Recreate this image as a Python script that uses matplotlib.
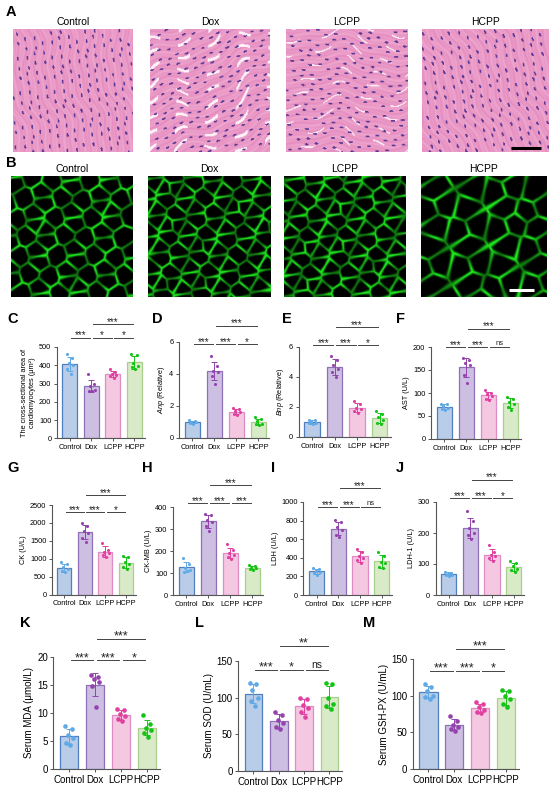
import numpy as np
import matplotlib
matplotlib.use("Agg")
import matplotlib.pyplot as plt
from matplotlib.transforms import blended_transform_factory

plt.rcParams['font.family'] = ['Liberation Sans', 'DejaVu Sans']
plt.rcParams['mathtext.fontset'] = 'custom'
plt.rcParams['mathtext.it'] = 'Liberation Sans:italic'
plt.rcParams['mathtext.rm'] = 'Liberation Sans'

groups = ["Control", "Dox", "LCPP", "HCPP"]

# per-animal values (Control, Dox, LCPP, HCPP)
area_c = [[460, 440, 415, 400, 380, 355], [350, 300, 285, 265, 260, 262],
          [378, 365, 352, 345, 340, 332], [462, 455, 415, 398, 388, 382]]
anp_d = [[1.1, 1.05, 1.02, 0.98, 0.95, 0.9], [5.1, 4.5, 4.2, 4.1, 3.9, 3.4],
         [1.85, 1.8, 1.7, 1.6, 1.5, 1.45], [1.3, 1.2, 1.05, 0.9, 0.85, 0.8]]
bnp_e = [[1.15, 1.1, 1.0, 0.95, 0.9, 0.85], [5.4, 5.1, 4.8, 4.5, 4.3, 4.0],
         [2.4, 2.2, 1.95, 1.85, 1.7, 1.6], [1.7, 1.55, 1.3, 1.1, 0.95, 0.85]]
ast_f = [[76, 75, 72, 68, 66, 63], [177, 172, 165, 160, 140, 122],
         [106, 100, 97, 93, 88, 85], [92, 88, 80, 76, 70, 64]]
ck_g = [[900, 850, 760, 720, 650, 620], [2000, 1920, 1780, 1720, 1580, 1480],
        [1450, 1250, 1200, 1150, 1100, 1050], [1080, 1050, 900, 850, 780, 700]]
ckmb_h = [[170, 140, 125, 115, 105, 110], [370, 362, 340, 330, 315, 290],
          [230, 205, 192, 180, 175, 165], [135, 130, 125, 122, 118, 115]]
ldh_i = [[290, 280, 262, 250, 235, 215], [810, 780, 730, 700, 650, 620],
         [500, 460, 420, 400, 375, 340], [465, 420, 360, 340, 300, 290]]
ldh1_j = [[75, 72, 68, 66, 64, 62], [270, 240, 215, 200, 195, 180],
          [160, 140, 130, 125, 118, 110], [110, 102, 92, 85, 80, 75]]
mda_k = [[7.6, 7.1, 6.0, 5.5, 4.6, 4.2], [16.8, 16.4, 16.0, 15.5, 14.8, 11.0],
         [10.8, 10.5, 9.8, 9.4, 9.0, 8.6], [9.7, 8.0, 7.3, 7.0, 6.5, 5.8]]
sod_l = [[120, 118, 110, 100, 95, 88], [80, 76, 70, 66, 60, 57],
         [100, 98, 90, 86, 80, 74], [120, 118, 100, 92, 88, 85]]
gsh_m = [[116, 112, 106, 100, 98, 96], [72, 66, 60, 57, 55, 52],
         [92, 88, 84, 81, 78, 77], [108, 106, 100, 95, 88, 84]]

# significance: Control-Dox, Dox-LCPP, LCPP-HCPP, Dox-HCPP
sig_c = ["***", "*", "*", "***"]
sig_d = ["***", "***", "*", "***"]
sig_e = ["***", "***", "*", "***"]
sig_f = ["***", "***", "ns", "***"]
sig_g = ["***", "***", "*", "***"]
sig_h = ["***", "***", "***", "***"]
sig_i = ["***", "***", "ns", "***"]
sig_j = ["***", "***", "*", "***"]
sig_k = ["***", "***", "*", "***"]
sig_l = ["***", "*", "ns", "**"]
sig_m = ["***", "***", "*", "***"]

fills = ["#b9cde9", "#cdbfe2", "#f5c8e2", "#d8eac8"]
edges = ["#4f7fbf", "#8e70b8", "#e08cc4", "#a9cf8c"]
dots = ["#5ea9e6", "#9443ad", "#e0409f", "#14c414"]
jit = np.array([-0.17, 0.13, -0.05, 0.18, -0.13, 0.05])

W, H = 550, 790
fig = plt.figure(figsize=(W / 100, H / 100), dpi=100)


def px_axes(x0, y0, x1, y1):
    return fig.add_axes([x0 / W, 1 - y1 / H, (x1 - x0) / W, (y1 - y0) / H])


def label(x, y, t):
    fig.text(x / W, 1 - y / H, t, fontsize=10.5, fontweight="bold", ha="left", va="center")


def he_texture(angle, gap_level, phase, n=150):
    # stand-in for the H&E photograph: pink fibres, pale clefts, purple nuclei
    yy, xx = np.mgrid[0:n, 0:n] / n
    a = np.deg2rad(angle)
    u = xx * np.cos(a) + yy * np.sin(a)
    v = -xx * np.sin(a) + yy * np.cos(a)
    warp = 0.5 * np.sin(2 * np.pi * (1.3 * u + phase)) + 0.2 * np.sin(2 * np.pi * (3.1 * u - 2 * phase))
    fib = 0.5 + 0.25 * np.sin(2 * np.pi * (31 * v + 2 * warp)) + 0.25 * np.sin(2 * np.pi * (13 * v + 5 * u * 0.3 + warp))
    pink = np.array([0.90, 0.55, 0.75])
    light = np.array([0.96, 0.74, 0.86])
    img = pink * (1 - fib[..., None] * 0.55) + light * (fib[..., None] * 0.55)
    gaps = (np.sin(2 * np.pi * (9 * v + 1.2 * warp)) > gap_level) & \
           (np.sin(2 * np.pi * (3.7 * u + 1.5 * v + 3 * phase)) > 0.3)
    img[gaps] = [0.99, 0.95, 0.97]
    for k in range(1, 170):
        cx = (phase + k * 0.7548777) % 1
        cy = (0.3 * phase + k * 0.5698403) % 1
        du = (xx - cx) * np.cos(a) + (yy - cy) * np.sin(a)
        dv = -(xx - cx) * np.sin(a) + (yy - cy) * np.cos(a)
        img[(du / 0.017) ** 2 + (dv / 0.0075) ** 2 < 1] = [0.36, 0.22, 0.58]
    return img


def if_texture(n_seeds, phase, width, n=150):
    # stand-in for the WGA photograph: green membranes around dark cells
    yy, xx = np.mgrid[0:n, 0:n] / n
    k = np.arange(1, n_seeds + 1)
    sx = (phase + k * 0.7548777) % 1 * 1.1 - 0.05
    sy = (0.6 * phase + k * 0.5698403) % 1 * 1.1 - 0.05
    d = np.sqrt((xx[..., None] - sx) ** 2 + (yy[..., None] - sy) ** 2)
    d2 = np.partition(d, 1, axis=-1)[..., :2]
    e = np.abs(d2[..., 1] - d2[..., 0])
    g = np.exp(-(e / width) ** 2)
    g = g * (0.75 + 0.25 * np.sin(2 * np.pi * (4 * xx + 3 * yy + phase)))
    return np.clip(np.stack([0.12 * g, 0.95 * g, 0.12 * g], -1), 0, 1)


# panel A: H&E sections
he_params = [(80, 1.5, 0.11), (-20, 0.78, 0.37), (5, 0.95, 0.63), (70, 1.5, 0.81)]
a_x = [(13, 133), (150, 270), (286, 408), (422, 548)]
for (x0, x1), name, (ang, gl, ph) in zip(a_x, groups, he_params):
    ax = px_axes(x0, 29, x1, 152)
    ax.imshow(he_texture(ang, gl, ph), aspect="auto")
    ax.set_axis_off()
    ax.set_title(name, fontsize=7.5, pad=3)
ax.plot([0.706, 0.944], [0.03, 0.03], color="black", lw=2.2, transform=ax.transAxes,
        solid_capstyle="butt")
label(6, 12, "A")

# panel B: WGA staining
if_params = [(70, 0.21, 0.02), (95, 0.47, 0.018), (95, 0.73, 0.019), (40, 0.29, 0.024)]
b_x = [(11, 133), (148, 270), (284, 406), (421, 547)]
for (x0, x1), name, (ns, ph, wd) in zip(b_x, groups, if_params):
    ax = px_axes(x0, 176, x1, 297)
    ax.imshow(if_texture(ns, ph, wd), aspect="auto")
    ax.set_axis_off()
    ax.set_title(name, fontsize=7.5, pad=3)
ax.plot([0.70, 0.897], [0.06, 0.06], color="white", lw=2.2, transform=ax.transAxes,
        solid_capstyle="butt")
label(6, 163, "B")


def bar_panel(vals, xa, s, y_base, y_top, ymax, step, ylabel, sig, pair_h, top_h, big=False):
    x1 = xa + s * 4.1
    ax = px_axes(xa, y_top, x1, y_base)
    fs = 7 if big else 5.3
    ms = 11 if big else 5
    for i, v in enumerate(vals):
        v = np.asarray(v, float)
        m, sd = v.mean(), v.std(ddof=1)
        ax.bar(i, m, width=0.7, color=fills[i], edgecolor=edges[i], linewidth=0.9, zorder=1)
        ax.errorbar(i, m, yerr=sd, color=dots[i], capsize=2 if not big else 2.5,
                    elinewidth=0.7, capthick=0.7, zorder=3)
        ax.scatter(i + jit[:len(v)] * 0.9, v, s=ms, color=dots[i], zorder=4, linewidths=0)
    ax.set_xlim(-0.6, 3.5)
    ax.set_ylim(0, ymax)
    ax.set_yticks(np.arange(0, ymax + step / 2, step))
    ax.set_xticks(range(4))
    ax.set_xticklabels(groups)
    for sp in ["top", "right"]:
        ax.spines[sp].set_visible(False)
    for sp in ["left", "bottom"]:
        ax.spines[sp].set_color("#555555")
        ax.spines[sp].set_linewidth(0.8)
    ax.tick_params(labelsize=fs, length=2.5, width=0.7, color="#555555", pad=1.5)
    ax.set_ylabel(ylabel, fontsize=fs, labelpad=2)
    tr = blended_transform_factory(ax.transData, ax.transAxes)
    fs_sig = 9 if big else 7
    for (a, b), lab, h in zip([(0, 1), (1, 2), (2, 3), (1, 3)], sig,
                              [pair_h, pair_h, pair_h, top_h]):
        ax.plot([a + 0.06, b - 0.06], [h, h], color="#444444", lw=0.7,
                transform=tr, clip_on=False)
        off = 1.5 if lab == "ns" else -0.5
        ax.annotate(lab, xy=((a + b) / 2, h), xycoords=tr, xytext=(0, off),
                    textcoords="offset points", ha="center", va="baseline",
                    fontsize=fs_sig - (1.5 if lab == "ns" else 0), color="#222222")
    return ax


bar_panel(area_c, 57, 21.5, 438.5, 347, 500, 100,
          "The cross-sectional area of\ncardiomyocytes (μm²)", sig_c, 1.10, 1.25)
bar_panel(anp_d, 179, 22, 438, 342, 6, 2, r"$\it{Anp}$ (Relative)", sig_d, 0.98, 1.17)
bar_panel(bnp_e, 298.5, 22.5, 437, 347, 6, 2, r"$\it{Bnp}$ (Relative)", sig_e, 1.02, 1.22)
bar_panel(ast_f, 431, 22, 439, 347, 200, 50, "AST (U/L)", sig_f, 1.0, 1.2)
label(7, 319, "C")
label(152, 319, "D")
label(282, 319, "E")
label(396, 319, "F")

bar_panel(ck_g, 52, 20.5, 594.5, 505, 2500, 500, "CK (U/L)", sig_g, 0.92, 1.11)
bar_panel(ckmb_h, 173, 22, 595, 507, 400, 100, "CK-MB (U/L)", sig_h, 1.045, 1.25)
bar_panel(ldh_i, 303.5, 21.7, 595, 502, 1000, 200, "LDH (U/L)", sig_i, 0.946, 1.15)
bar_panel(ldh1_j, 435.5, 21.7, 595, 502, 300, 100, "LDH-1 (U/L)", sig_j, 1.04, 1.24)
label(7, 468, "G")
label(142, 468, "H")
label(271, 468, "I")
label(396, 468, "J")

bar_panel(mda_k, 53.4, 26, 769, 657, 20, 5, "Serum MDA (μmol/L)", sig_k, 0.97, 1.16, big=True)
bar_panel(sod_l, 238.3, 25.3, 771, 661, 150, 50, "Serum SOD (U/mL)", sig_l, 0.92, 1.14, big=True)
bar_panel(gsh_m, 413, 25.8, 769, 659, 150, 50, "Serum GSH-PX (U/mL)", sig_m, 0.89, 1.09, big=True)
label(20, 623, "K")
label(195, 623, "L")
label(363, 623, "M")

fig.savefig("out.png", dpi=100)
